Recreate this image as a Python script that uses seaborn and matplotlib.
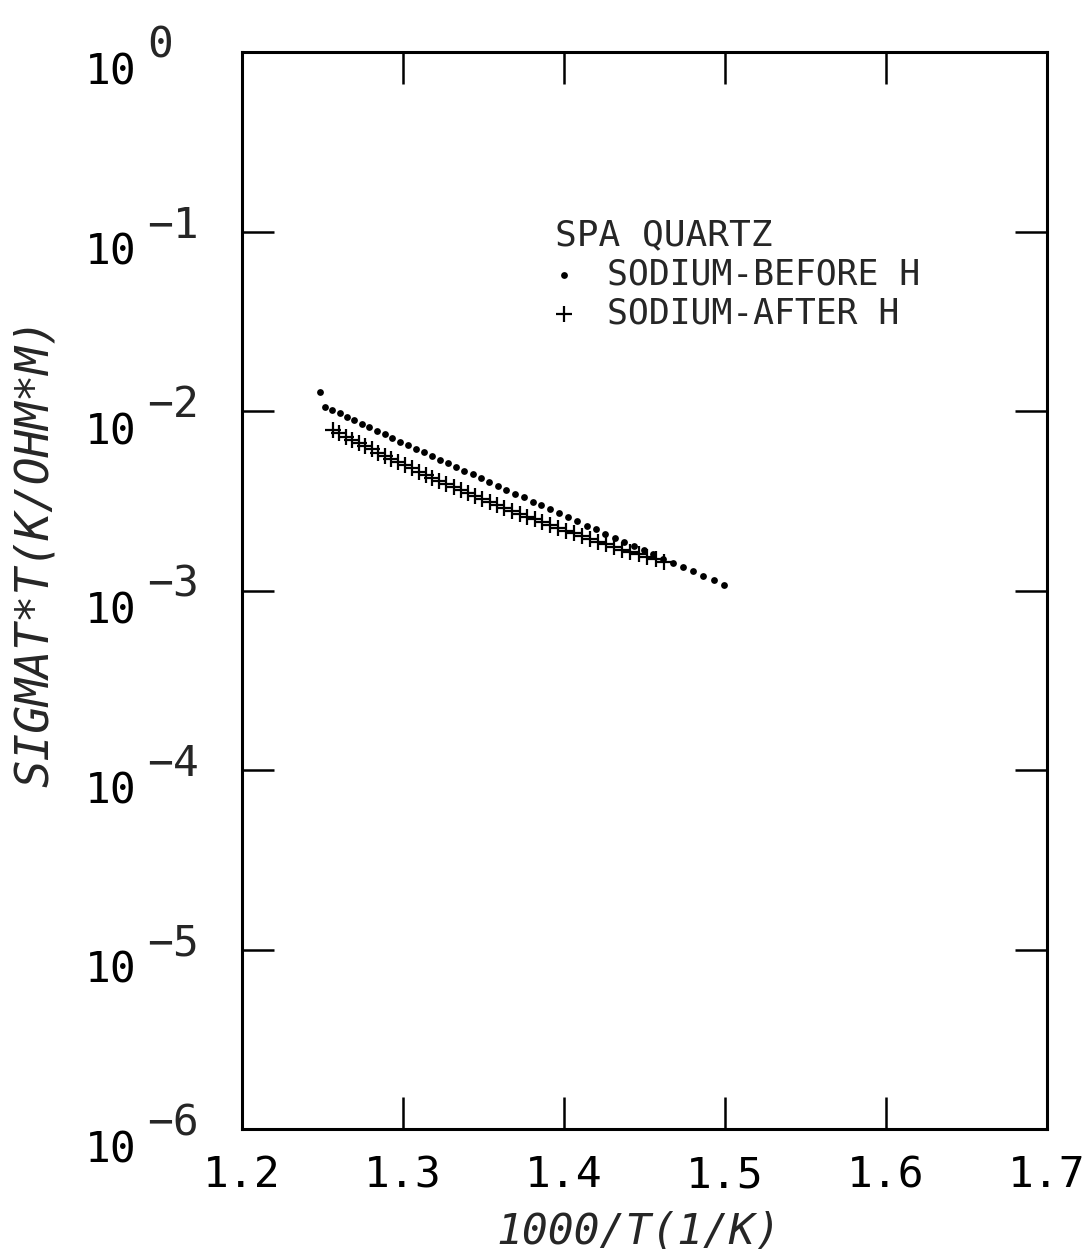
import numpy as np
import pandas as pd
import matplotlib
matplotlib.use("Agg")
import matplotlib.pyplot as plt
import matplotlib.ticker as mticker
from matplotlib.transforms import offset_copy
import seaborn as sns

# --- data ---
# sodium, before hydrogen ( . )
before_x = [1.2484, 1.2516, 1.2561, 1.2606, 1.2652, 1.2698, 1.2745, 1.2791, 1.2838,
            1.2886, 1.2934, 1.2982, 1.3030, 1.3079, 1.3129, 1.3178, 1.3228, 1.3279,
            1.3330, 1.3381, 1.3432, 1.3484, 1.3537, 1.3590, 1.3643, 1.3696, 1.3750,
            1.3805, 1.3860, 1.3915, 1.3971, 1.4027, 1.4084, 1.4141, 1.4198, 1.4257,
            1.4315, 1.4375, 1.4434, 1.4494, 1.4555, 1.4616, 1.4677, 1.4739, 1.4802,
            1.4865, 1.4929, 1.4993]
before_y = [0.0127, 0.01057, 0.01012, 0.00969, 0.00927, 0.00887, 0.00848, 0.00811, 0.00776,
            0.00741, 0.00708, 0.00676, 0.00646, 0.00617, 0.00588, 0.00562, 0.00536, 0.00511,
            0.00487, 0.00464, 0.00443, 0.00422, 0.00401, 0.00382, 0.00364, 0.00346, 0.00330,
            0.00313, 0.00298, 0.00283, 0.00269, 0.00256, 0.00243, 0.00230, 0.00219, 0.00207,
            0.00197, 0.00187, 0.00177, 0.00168, 0.00159, 0.00150, 0.00142, 0.00135, 0.00128,
            0.00121, 0.00114, 0.00108]

# sodium, after hydrogen ( + )
after_x = [1.2564, 1.2604, 1.2644, 1.2683, 1.2724, 1.2764, 1.2805, 1.2846, 1.2887,
           1.2928, 1.2970, 1.3012, 1.3055, 1.3097, 1.3140, 1.3183, 1.3226, 1.3270,
           1.3314, 1.3358, 1.3403, 1.3448, 1.3493, 1.3539, 1.3585, 1.3630, 1.3677,
           1.3724, 1.3771, 1.3818, 1.3866, 1.3914, 1.3962, 1.4011, 1.4060, 1.4109,
           1.4159, 1.4209, 1.4260, 1.4311, 1.4362, 1.4413, 1.4465, 1.4517, 1.4570,
           1.4623]
after_y = [0.00783, 0.00751, 0.00720, 0.00692, 0.00663, 0.00637, 0.00611, 0.00587, 0.00563,
           0.00541, 0.00519, 0.00499, 0.00479, 0.00460, 0.00442, 0.00425, 0.00409, 0.00393,
           0.00378, 0.00363, 0.00349, 0.00336, 0.00324, 0.00311, 0.00300, 0.00289, 0.00278,
           0.00268, 0.00258, 0.00249, 0.00240, 0.00231, 0.00223, 0.00215, 0.00208, 0.00201,
           0.00194, 0.00187, 0.00181, 0.00175, 0.00169, 0.00164, 0.00159, 0.00154, 0.00149,
           0.00144]

x_ticks = [1.2, 1.3, 1.4, 1.5, 1.6, 1.7]
y_ticks = [1e0, 1e-1, 1e-2, 1e-3, 1e-4, 1e-5, 1e-6]
y_exponents = ["0", "\u22121", "\u22122", "\u22123", "\u22124", "\u22125", "\u22126"]

sns.set_style("ticks")
plt.rcParams["font.family"] = ["DejaVu Sans Mono", "DejaVu Sans"]

fig = plt.figure(figsize=(10.88, 12.56), dpi=100)
ax = fig.add_axes([0.2224, 0.1011, 0.7399, 0.8575])

before = pd.DataFrame({"x": before_x, "y": before_y})
after = pd.DataFrame({"x": after_x, "y": after_y})

sns.scatterplot(data=before, x="x", y="y", ax=ax, marker="o", s=24, color="black",
                linewidth=0, label="SODIUM-BEFORE H")
sns.scatterplot(data=after, x="x", y="y", ax=ax, marker="+", s=120, color="black",
                linewidth=1.6, label="SODIUM-AFTER H")

ax.set_yscale("log")
ax.set_xlim(1.2, 1.7)
ax.set_ylim(1e-6, 1e0)
ax.set_xticks(x_ticks)
ax.set_xticklabels([f"{t:.1f}" for t in x_ticks])
ax.set_yticks(y_ticks)
ax.yaxis.set_minor_locator(mticker.NullLocator())
ax.set_yticklabels(["10"] * len(y_ticks), va="top")

for s in ax.spines.values():
    s.set_linewidth(2.2)
    s.set_color("black")

ax.tick_params(axis="both", which="major", direction="in", length=23, width=1.8,
               top=True, right=True, labelsize=31, colors="black")
ax.tick_params(axis="x", pad=18)
ax.tick_params(axis="y", pad=76)

# exponents of the y tick labels, drawn at full size like the plotter did
exp_tr = offset_copy(ax.get_yaxis_transform(), fig=fig, x=-95, y=6, units="dots")
for t, e in zip(y_ticks, y_exponents):
    ax.text(0, t, e, transform=exp_tr, ha="left", va="center", fontsize=31,
            clip_on=False)

ax.set_xlabel("1000/T(1/K)", fontsize=31, fontstyle="italic")
ax.set_ylabel("SIGMAT*T(K/OHM*M)", fontsize=33, fontstyle="italic")
ax.xaxis.label.set_va("center")
ax.yaxis.label.set_va("center")
ax.xaxis.set_label_coords(0.493, -0.0956)
ax.yaxis.set_label_coords(-0.257, 0.536)

leg = ax.legend(title="SPA QUARTZ", loc="upper left", bbox_to_anchor=(0.389, 0.846),
                frameon=False, alignment="left", fontsize=25, title_fontsize=26,
                handlelength=0.5, handletextpad=1.0, borderpad=0, borderaxespad=0,
                labelspacing=0.15)

fig.savefig("out.png", dpi=100, facecolor="white")
